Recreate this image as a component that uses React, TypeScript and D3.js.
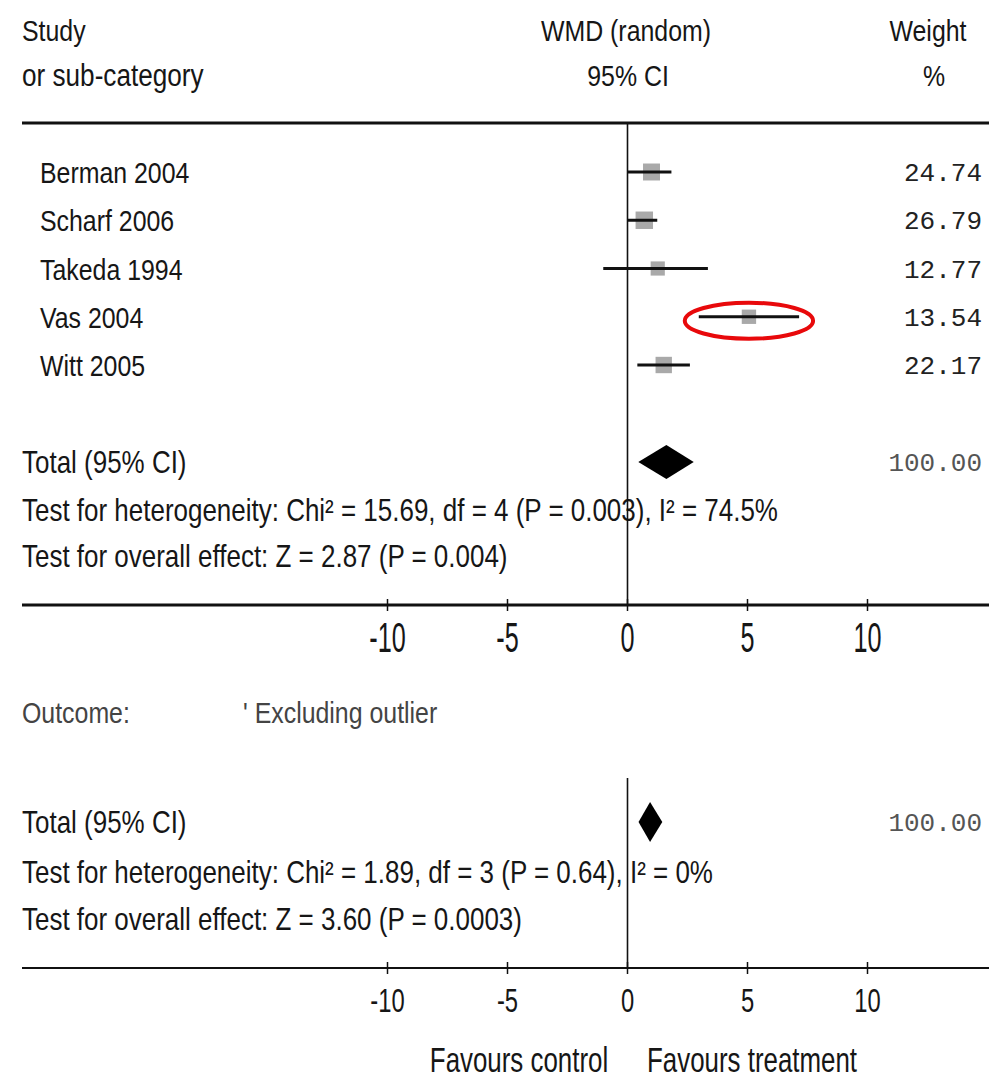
import React from 'react';
import * as d3 from 'd3';

// study rows
const studies = ["Berman 2004", "Scharf 2006", "Takeda 1994", "Vas 2004", "Witt 2005"];
const wmd = [1.0, 0.7, 1.26, 5.06, 1.51];
const ciLow = [0.0, 0.0, -1.01, 2.97, 0.41];
const ciHigh = [1.83, 1.24, 3.35, 7.15, 2.6];
const weights = [24.74, 26.79, 12.77, 13.54, 22.17];

// pooled estimates: [low, point, high]
const totalAll = [0.45, 1.62, 2.76];
const totalExcl = [0.46, 0.94, 1.45];

const ticks = [-10, -5, 0, 5, 10];
const highlighted = "Vas 2004";

const W = 989, H = 1079;
const FONT = "'Liberation Sans', Arial, sans-serif";
const MONO = "'Liberation Mono', 'Courier New', monospace";
const INK = "#161616";
const BIG = 31.3; // summary lines are set a bit larger than the study rows

// narrow text: Liberation Sans squeezed horizontally (like Arial Narrow)
const NText = ({ x, y, size = 30, sx = 0.83, anchor = "start", fill, children }:
  { x: number; y: number; size?: number; sx?: number; anchor?: string; fill?: string; children: React.ReactNode }) => (
  <text transform={`translate(${x},${y}) scale(${sx},1)`} fontSize={size} textAnchor={anchor as any} fill={fill}>
    {children}
  </text>
);

const App = () => {
  const x = d3.scaleLinear().domain([-10, 10]).range([387.5, 867.5]);
  const y = d3.scalePoint<string>().domain(studies).range([172, 365]);
  const size = d3.scaleLinear().domain([12, 27]).range([14, 17.5]);

  const diamond = (v: number[], cy: number, h: number) =>
    `M${x(v[0])},${cy} L${x(v[1])},${cy - h} L${x(v[2])},${cy} L${x(v[1])},${cy + h} Z`;

  const axis = (ay: number, labelY: number, thick: number, lsize: number, lsx: number) => (
    <g>
      <line x1={22} x2={W} y1={ay} y2={ay} stroke="#111" strokeWidth={thick} />
      {ticks.map(t => (
        <g key={t}>
          <line x1={x(t)} x2={x(t)} y1={ay - 6} y2={ay + 6} stroke="#111" strokeWidth={1.5} />
          <NText x={x(t)} y={labelY} size={lsize} sx={lsx} anchor="middle">{t < 0 ? `-${-t}` : t}</NText>
        </g>
      ))}
    </g>
  );

  const vi = studies.indexOf(highlighted);
  const vy = y(highlighted) ?? 0;

  return (
    <svg width={W} height={H} style={{ position: 'absolute', left: 0, top: 0, background: '#fff' }}
      fontFamily={FONT} fill={INK}>
      {/* header */}
      <NText x={22} y={41}>Study</NText>
      <NText x={22} y={86} size={31.5}>or sub-category</NText>
      <NText x={626} y={41} anchor="middle">WMD (random)</NText>
      <NText x={628} y={86} anchor="middle">95% CI</NText>
      <NText x={928} y={41} anchor="middle">Weight</NText>
      <NText x={934} y={86} anchor="middle">%</NText>
      <line x1={22} x2={W} y1={123} y2={123} stroke="#111" strokeWidth={3} />

      {/* studies */}
      {studies.map((s, i) => {
        const cy = y(s) ?? 0;
        const sz = size(weights[i]);
        return (
          <g key={s}>
            <NText x={40} y={cy + 11}>{s}</NText>
            <rect x={x(wmd[i]) - sz / 2} y={cy - sz / 2} width={sz} height={sz} fill="#a9a9a9" />
            <line x1={x(ciLow[i])} x2={x(ciHigh[i])} y1={cy} y2={cy} stroke="#111" strokeWidth={3} />
            <text x={982} y={cy + 9} fontSize={26} fontFamily={MONO} textAnchor="end" fill="#222">{weights[i].toFixed(2)}</text>
          </g>
        );
      })}

      <ellipse cx={(x(ciLow[vi]) + x(ciHigh[vi])) / 2} cy={vy + 4}
        rx={(x(ciHigh[vi]) - x(ciLow[vi])) / 2 + 14} ry={18}
        fill="none" stroke="#e8090b" strokeWidth={4} />

      {/* total, all studies */}
      <NText x={22} y={473} size={BIG}>Total (95% CI)</NText>
      <path d={diamond(totalAll, 462, 17)} fill="#000" />
      <text x={982} y={471} fontSize={26} fontFamily={MONO} textAnchor="end" fill="#555">100.00</text>
      <NText x={22} y={521} size={BIG}>Test for heterogeneity: Chi² = 15.69, df = 4 (P = 0.003), I² = 74.5%</NText>
      <NText x={22} y={567} size={BIG}>Test for overall effect: Z = 2.87 (P = 0.004)</NText>
      <line x1={x(0)} x2={x(0)} y1={123} y2={605} stroke="#111" strokeWidth={1.6} />
      {axis(605, 652, 3, 42, 0.6)}

      {/* excluding outlier */}
      <NText x={22} y={723} fill="#444">Outcome:</NText>
      <NText x={243} y={723} fill="#444">' Excluding outlier</NText>

      <NText x={22} y={833} size={BIG}>Total (95% CI)</NText>
      <path d={diamond(totalExcl, 822, 20)} fill="#000" />
      <text x={982} y={831} fontSize={26} fontFamily={MONO} textAnchor="end" fill="#555">100.00</text>
      <NText x={22} y={883} size={BIG}>Test for heterogeneity: Chi² = 1.89, df = 3 (P = 0.64), I² = 0%</NText>
      <NText x={22} y={930} size={BIG}>Test for overall effect: Z = 3.60 (P = 0.0003)</NText>
      <line x1={x(0)} x2={x(0)} y1={778} y2={968} stroke="#111" strokeWidth={1.6} />
      {axis(968, 1012, 2, 34, 0.7)}

      <NText x={519} y={1072} size={35} sx={0.74} anchor="middle">Favours control</NText>
      <NText x={752} y={1072} size={35} sx={0.74} anchor="middle">Favours treatment</NText>
    </svg>
  );
};

export default App;
